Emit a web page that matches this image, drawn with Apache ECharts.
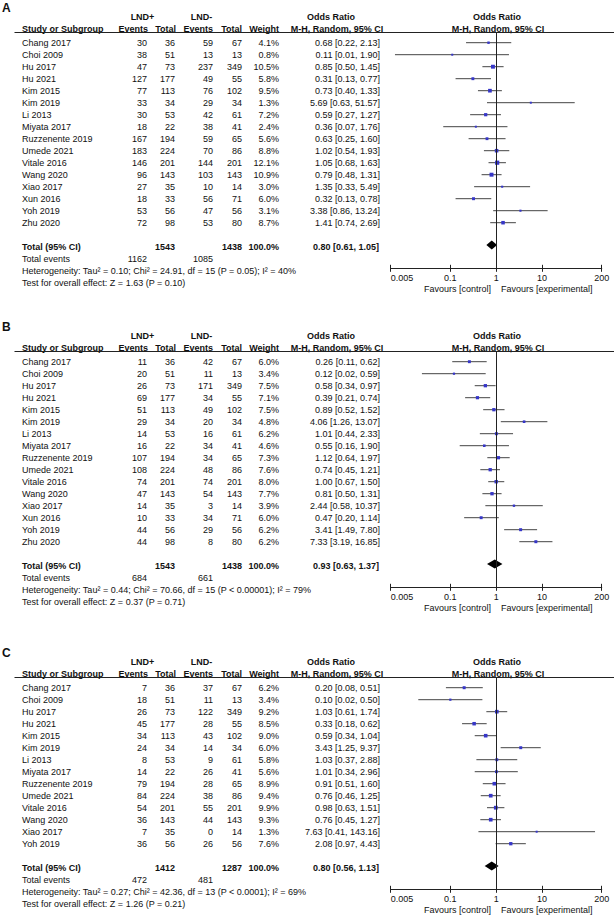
<!DOCTYPE html>
<html><head><meta charset="utf-8">
<script src="https://cdn.jsdelivr.net/npm/echarts@6/dist/echarts.min.js"></script>
<style>html,body{margin:0;padding:0;background:#fff}#c{width:614px;height:915px}</style>
</head><body><div id="c"></div>
<script>
// ---------- DATA ----------
const studiesAB = ['Chang 2017','Choi 2009','Hu 2017','Hu 2021','Kim 2015','Kim 2019','Li 2013','Miyata 2017','Ruzzenente 2019','Umede 2021','Vitale 2016','Wang 2020','Xiao 2017','Xun 2016','Yoh 2019','Zhu 2020'];
const studiesC = ['Chang 2017','Choi 2009','Hu 2017','Hu 2021','Kim 2015','Kim 2019','Li 2013','Miyata 2017','Ruzzenente 2019','Umede 2021','Vitale 2016','Wang 2020','Xiao 2017','Yoh 2019'];

const A_e1 = [30,38,47,127,77,33,30,18,167,183,146,96,27,18,53,72];
const A_t1 = [36,51,73,177,113,34,53,22,194,224,201,143,35,33,56,98];
const A_e2 = [59,13,237,49,76,29,42,38,59,70,144,103,10,56,47,53];
const A_t2 = [67,13,349,55,102,34,61,41,65,86,201,143,14,71,56,80];
const A_w  = [4.1,0.8,10.5,5.8,9.5,1.3,7.2,2.4,5.6,8.8,12.1,10.9,3.0,6.0,3.1,8.7];
const A_or = [0.68,0.11,0.85,0.31,0.73,5.69,0.59,0.36,0.63,1.02,1.05,0.79,1.35,0.32,3.38,1.41];
const A_lo = [0.22,0.0062,0.50,0.13,0.40,0.63,0.27,0.07,0.25,0.54,0.68,0.48,0.33,0.13,0.86,0.74];
const A_hi = [2.13,1.90,1.45,0.77,1.33,51.57,1.27,1.76,1.60,1.93,1.63,1.31,5.49,0.78,13.24,2.69];
const A_pooled = [0.80,0.61,1.05];
const A_het = 'Heterogeneity: Tau\u00b2 = 0.10; Chi\u00b2 = 24.91, df = 15 (P = 0.05); I\u00b2 = 40%';
const A_test = 'Test for overall effect: Z = 1.63 (P = 0.10)';

const B_e1 = [11,20,26,69,51,29,14,16,107,108,74,47,14,10,44,44];
const B_t1 = [36,51,73,177,113,34,53,22,194,224,201,143,35,33,56,98];
const B_e2 = [42,11,171,34,49,20,16,34,34,48,74,54,3,34,29,8];
const B_t2 = [67,13,349,55,102,34,61,41,65,86,201,143,14,71,56,80];
const B_w  = [6.0,3.4,7.5,7.1,7.5,4.8,6.2,4.6,7.3,7.6,8.0,7.7,3.9,6.0,6.2,6.2];
const B_or = [0.26,0.12,0.58,0.39,0.89,4.06,1.01,0.55,1.12,0.74,1.00,0.81,2.44,0.47,3.41,7.33];
const B_lo = [0.11,0.024,0.34,0.21,0.52,1.26,0.44,0.16,0.64,0.45,0.67,0.50,0.58,0.20,1.49,3.19];
const B_hi = [0.62,0.59,0.97,0.74,1.52,13.07,2.33,1.90,1.97,1.21,1.50,1.31,10.37,1.14,7.80,16.85];
const B_pooled = [0.93,0.63,1.37];
const B_het = 'Heterogeneity: Tau\u00b2 = 0.44; Chi\u00b2 = 70.66, df = 15 (P < 0.00001); I\u00b2 = 79%';
const B_test = 'Test for overall effect: Z = 0.37 (P = 0.71)';

const C_e1 = [7,18,26,45,34,24,8,14,79,84,54,36,7,36];
const C_t1 = [36,51,73,177,113,34,53,22,194,224,201,143,35,56];
const C_e2 = [37,11,122,28,43,14,9,26,28,38,55,44,0,26];
const C_t2 = [67,13,349,55,102,34,61,41,65,86,201,143,14,56];
const C_w  = [6.2,3.4,9.2,8.5,9.0,6.0,5.8,5.6,8.9,9.4,9.9,9.3,1.3,7.6];
const C_or = [0.20,0.10,1.03,0.33,0.59,3.43,1.03,1.01,0.91,0.76,0.98,0.76,7.63,2.08];
const C_lo = [0.08,0.02,0.61,0.18,0.34,1.25,0.37,0.34,0.51,0.46,0.63,0.45,0.41,0.97];
const C_hi = [0.51,0.50,1.74,0.62,1.04,9.37,2.88,2.96,1.60,1.25,1.51,1.27,143.16,4.43];
const C_pooled = [0.80,0.56,1.13];
const C_het = 'Heterogeneity: Tau\u00b2 = 0.27; Chi\u00b2 = 42.36, df = 13 (P < 0.0001); I\u00b2 = 69%';
const C_test = 'Test for overall effect: Z = 1.26 (P = 0.21)';

const tickValues = [0.005,0.1,1,10,200];
const tickLabels = ['0.005','0.1','1','10','200'];
const panelLetters = ['A','B','C'];

// ---------- LAYOUT ----------
const panels = [
  {letter:panelLetters[0], names:studiesAB, e1:A_e1,t1:A_t1,e2:A_e2,t2:A_t2,w:A_w,or:A_or,lo:A_lo,hi:A_hi,pooled:A_pooled,het:A_het,test:A_test},
  {letter:panelLetters[1], names:studiesAB, e1:B_e1,t1:B_t1,e2:B_e2,t2:B_t2,w:B_w,or:B_or,lo:B_lo,hi:B_hi,pooled:B_pooled,het:B_het,test:B_test},
  {letter:panelLetters[2], names:studiesC,  e1:C_e1,t1:C_t1,e2:C_e2,t2:C_t2,w:C_w,or:C_or,lo:C_lo,hi:C_hi,pooled:C_pooled,het:C_het,test:C_test}
];
const lineYs = [32.5, 351.5, 677.5];
const ROW = 12, TOPPAD = 0.85, BOTPAD = 2.8;
const FF = '"Liberation Sans", Arial, sans-serif';
const TXT = '#111';
const fmt2 = v => v.toFixed(2);
const sum = a => a.reduce((s,v)=>s+v,0);

const grids = [], xAxes = [], yAxes = [], series = [];
panels.forEach((p,k) => {
  const n = p.names.length;
  grids.push({left:390.7, width:211, top:lineYs[k], height:(n+BOTPAD+TOPPAD)*ROW,
    containLabel:false, outerBoundsMode:'none'});
  const base = {type:'log', logBase:10, gridIndex:k, min:0.005, max:200, position:'bottom', splitLine:{show:false},
    axisLine:{onZero:false, lineStyle:{color:'#222', width:1}}, minorTick:{show:false}};
  xAxes.push(Object.assign({}, base, {
    axisTick:{show:true, inside:true, length:3.5, customValues:tickValues, lineStyle:{color:'#222'}},
    axisLabel:{show:false}}));
  xAxes.push(Object.assign({}, base, {
    axisTick:{show:true, inside:false, length:3.5, customValues:tickValues, lineStyle:{color:'#222'}},
    axisLabel:{show:true, customValues:tickValues, margin:5, color:TXT, fontSize:9, fontFamily:FF,
      alignMinLabel:'left', alignMaxLabel:'center',
      formatter: v => { const i = tickValues.findIndex(t => Math.abs(t - v) < 1e-6*Math.max(1,t)); return i>=0 ? tickLabels[i] : ''; }}}));
  yAxes.push({type:'value', gridIndex:k, inverse:true, min:-TOPPAD, max:n+BOTPAD, show:false});

  series.push({
    type:'custom', xAxisIndex:2*k, yAxisIndex:k, animation:false, silent:true,
    data: p.names.map((s,i)=>[p.or[i], i, p.lo[i], p.hi[i], p.w[i]]),
    encode:{x:0, y:1},
    renderItem:(params, api) => {
      const y = api.value(1);
      const c = api.coord([api.value(0), y]);
      const l = api.coord([api.value(2), y]);
      const h = api.coord([api.value(3), y]);
      const s = Math.max(2, 1.2*Math.sqrt(api.value(4)));
      return {type:'group', children:[
        {type:'line', shape:{x1:l[0], y1:c[1], x2:h[0], y2:c[1]}, style:{stroke:'#444', lineWidth:1}},
        {type:'rect', shape:{x:c[0]-s/2, y:c[1]-s/2, width:s, height:s}, style:{fill:'#3636c8'}}
      ]};
    },
    markLine:{silent:true, symbol:'none', animation:false, label:{show:false},
      lineStyle:{color:'#222', width:1, type:'solid'}, data:[{xAxis:1}]}
  });
  series.push({
    type:'custom', xAxisIndex:2*k, yAxisIndex:k, animation:false, silent:true,
    data:[[p.pooled[0], n+0.85, p.pooled[1], p.pooled[2]]],
    encode:{x:0, y:1},
    renderItem:(params, api) => {
      const y = api.value(1);
      const c = api.coord([api.value(0), y]);
      const l = api.coord([api.value(2), y]);
      const h = api.coord([api.value(3), y]);
      return {type:'polygon', shape:{points:[[l[0],c[1]],[c[0],c[1]-4.5],[h[0],c[1]],[c[0],c[1]+4.5]]}, style:{fill:'#000'}};
    }
  });
});

const chart = echarts.init(document.getElementById('c'), null, {renderer:'svg'});
chart.setOption({animation:false, backgroundColor:'#fff', grid:grids, xAxis:xAxes, yAxis:yAxes, series:series});

// ---------- TABLE TEXT ----------
const g = [];
function T(x, y, text, align, bold, size) {
  g.push({type:'text', x:x, y:y, silent:true, style:{text:String(text), fill:TXT,
    font:(bold?'bold ':'') + (size||9) + 'px ' + FF, align:align||'left', verticalAlign:'middle'}});
}
panels.forEach((p,k) => {
  const n = p.names.length;
  const ry = r => chart.convertToPixel({gridIndex:k}, [1, r])[1];
  const L = lineYs[k];
  T(2, L-24.5, p.letter, 'left', true, 12);
  T(142.5, L-16, 'LND+', 'center', true);
  T(201.5, L-16, 'LND-', 'center', true);
  T(331, L-16, 'Odds Ratio', 'center', true);
  T(497, L-16, 'Odds Ratio', 'center', true);
  T(22, L-4, 'Study or Subgroup', 'left', true);
  T(148, L-4, 'Events', 'right', true);
  T(176, L-4, 'Total', 'right', true);
  T(213, L-4, 'Events', 'right', true);
  T(242, L-4, 'Total', 'right', true);
  T(279, L-4, 'Weight', 'right', true);
  T(337, L-4, 'M-H, Random, 95% CI', 'center', true);
  T(498, L-4, 'M-H, Random, 95% CI', 'center', true);
  g.push({type:'line', silent:true, shape:{x1:14.5, y1:L, x2:614, y2:L}, style:{stroke:'#222', lineWidth:1}});
  p.names.forEach((s,i) => {
    const y = ry(i);
    T(22, y, s);
    T(147, y, p.e1[i], 'right');
    T(175, y, p.t1[i], 'right');
    T(213, y, p.e2[i], 'right');
    T(242, y, p.t2[i], 'right');
    T(279, y, p.w[i].toFixed(1)+'%', 'right');
    T(380, y, fmt2(p.or[i])+' ['+fmt2(p.lo[i])+', '+fmt2(p.hi[i])+']', 'right');
  });
  let y = ry(n+1);
  T(22, y, 'Total (95% CI)', 'left', true);
  T(175, y, sum(p.t1), 'right', true);
  T(242, y, sum(p.t2), 'right', true);
  T(279, y, '100.0%', 'right', true);
  T(379, y, fmt2(p.pooled[0])+' ['+fmt2(p.pooled[1])+', '+fmt2(p.pooled[2])+']', 'right', true);
  y = ry(n+2);
  T(22, y, 'Total events');
  T(147, y, sum(p.e1), 'right');
  T(213, y, sum(p.e2), 'right');
  T(22, ry(n+3), p.het);
  T(22, ry(n+4), p.test);
  const ay = ry(n+BOTPAD);
  T(491, ay+21, 'Favours [control]', 'right');
  T(501, ay+21, 'Favours [experimental]', 'left');
});
chart.setOption({graphic:{elements:g}});
</script></body></html>
